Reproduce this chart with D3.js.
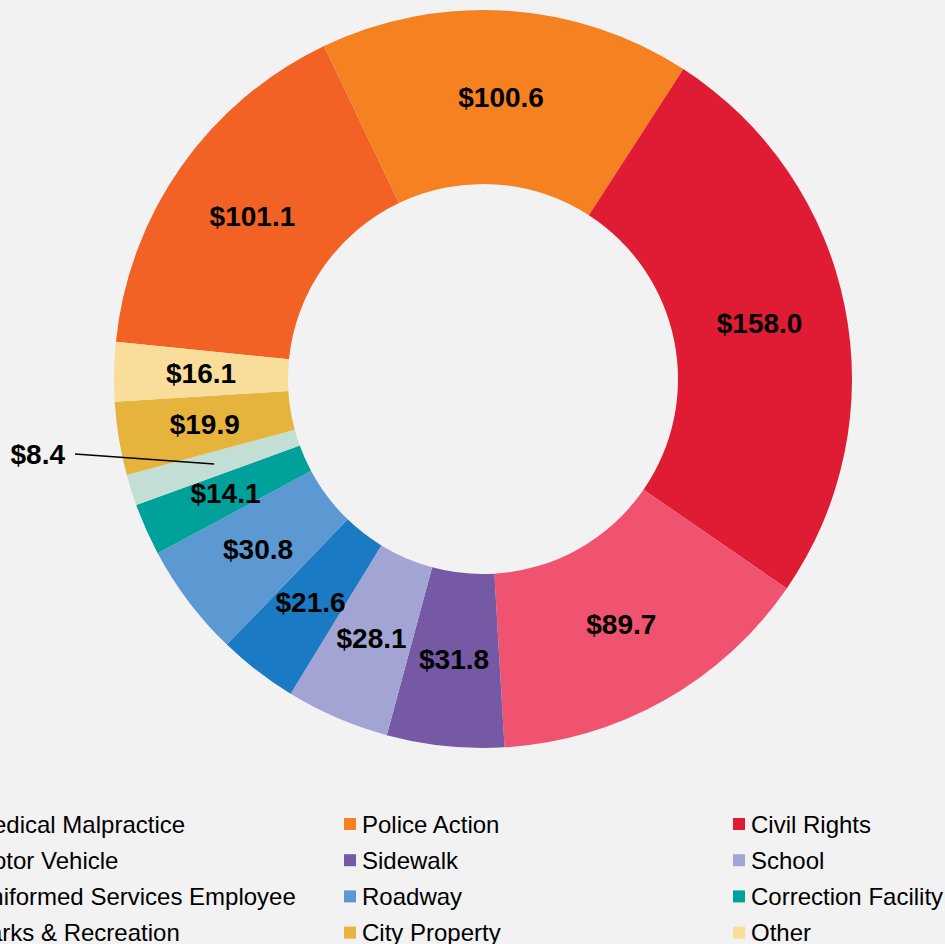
<!DOCTYPE html>
<html>
<head>
<meta charset="utf-8">
<script src="https://cdn.jsdelivr.net/npm/d3@7"></script>
<style>
  html, body { margin: 0; padding: 0; background: #f2f2f2; overflow: hidden; }
  svg { display: block; }
  .slice-label { font-family: "Liberation Sans", Arial, sans-serif; font-weight: bold; font-size: 28px; fill: #000; }
  .legend-text { font-family: "Liberation Sans", Arial, sans-serif; font-size: 24px; fill: #000; }
</style>
</head>
<body>
<div id="chart"></div>
<script>
// Data (in millions)
const categories = [
  "Medical Malpractice", "Police Action", "Civil Rights",
  "Motor Vehicle", "Sidewalk", "School",
  "Uniformed Services Employee", "Roadway", "Correction Facility",
  "Parks & Recreation", "City Property", "Other"
];
const values = [101.1, 100.6, 158.0, 89.7, 31.8, 28.1, 21.6, 30.8, 14.1, 8.4, 19.9, 16.1];
const colors = [
  "#f26225", "#f68121", "#e01c35",
  "#f0536f", "#7559a5", "#a2a5d4",
  "#1b7ac4", "#5c98d2", "#00a19a",
  "#c2ded5", "#e6b43c", "#f8dd9b"
];
// slices too thin for an inside label get a leader line
const outsideLabels = ["Parks & Recreation"];

const width = 945, height = 944;
const cx = 483, cy = 379;
const outerR = 369, innerR = 195;

const data = categories.map((c, i) => ({ name: c, value: values[i], color: colors[i] }));

const svg = d3.select("#chart").append("svg")
  .attr("width", width)
  .attr("height", height);

svg.append("rect").attr("width", width).attr("height", height).attr("fill", "#f2f2f2");

const pie = d3.pie()
  .sort(null)
  .value(d => d.value)
  .startAngle(-84.2 * Math.PI / 180)
  .endAngle((360 - 84.2) * Math.PI / 180);

const arc = d3.arc().innerRadius(innerR).outerRadius(outerR);

const g = svg.append("g").attr("transform", `translate(${cx},${cy})`);
const arcs = pie(data);

g.selectAll("path.slice")
  .data(arcs)
  .join("path")
  .attr("class", "slice")
  .attr("d", arc)
  .attr("fill", d => d.data.color);

const fmt = d => "$" + d3.format(".1f")(d);

// inside labels
g.selectAll("text.inside")
  .data(arcs.filter(d => !outsideLabels.includes(d.data.name)))
  .join("text")
  .attr("class", "slice-label inside")
  .attr("text-anchor", "middle")
  .attr("dominant-baseline", "central")
  .attr("transform", d => `translate(${arc.centroid(d)})`)
  .text(d => fmt(d.data.value));

// outside labels with leader line
const outs = arcs.filter(d => outsideLabels.includes(d.data.name));
outs.forEach(d => {
  const [x, y] = arc.centroid(d);
  const lx = -outerR - 39;
  g.append("line")
    .attr("x1", x).attr("y1", y)
    .attr("x2", lx).attr("y2", y - 10)
    .attr("stroke", "#000")
    .attr("stroke-width", 1.5);
  g.append("text")
    .attr("class", "slice-label")
    .attr("text-anchor", "end")
    .attr("dominant-baseline", "central")
    .attr("x", lx - 10)
    .attr("y", y - 9)
    .text(fmt(d.data.value));
});

// Legend: 3 columns (first column runs off the left edge, as in the source)
const colX = [-45, 344, 733];
const rowY0 = 824, rowStep = 36.2;
const legend = svg.append("g").attr("class", "legend");
const item = legend.selectAll("g")
  .data(data)
  .join("g")
  .attr("transform", (d, i) => `translate(${colX[i % 3]},${rowY0 + Math.floor(i / 3) * rowStep})`);
item.append("rect")
  .attr("x", 0).attr("y", -6)
  .attr("width", 12).attr("height", 12)
  .attr("fill", d => d.color);
item.append("text")
  .attr("class", "legend-text")
  .attr("x", 18)
  .attr("y", 8.5)
  .text(d => d.name);
</script>
</body>
</html>
